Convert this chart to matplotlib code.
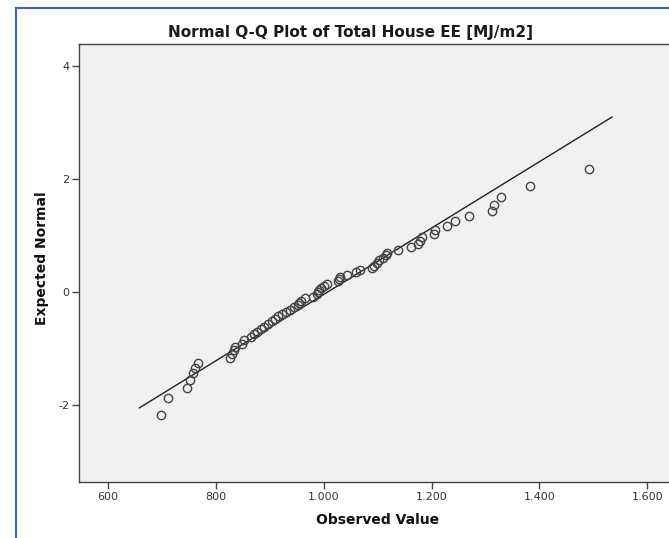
import matplotlib
matplotlib.use('Agg')
import matplotlib.pyplot as plt
from matplotlib.lines import Line2D
from matplotlib.ticker import FuncFormatter
import numpy as np

plt.rcParams['axes.unicode_minus'] = False

# ------------------------------------------------------------------------------
# Q-Q data: observed total house EE [MJ/m2] and expected normal scores
observed = [699, 712, 746, 752, 757, 761, 766,
            826, 829, 834, 836, 849, 853, 866, 870, 876, 884, 890, 896,
            904, 910, 916, 923, 930, 937, 944, 952, 955, 958, 965, 981,
            987, 990, 992, 995, 1001, 1006, 1026, 1028, 1031, 1044, 1059,
            1068, 1089, 1094, 1098, 1102, 1110, 1116, 1118, 1137,
            1162, 1174, 1179, 1182, 1205, 1207, 1228, 1244, 1269, 1313,
            1316, 1329, 1383, 1492]
expected = [-2.17, -1.88, -1.70, -1.56, -1.44, -1.34, -1.25,
            -1.17, -1.10, -1.03, -0.97, -0.91, -0.85, -0.80, -0.75, -0.70,
            -0.65, -0.61, -0.56, -0.52, -0.47, -0.43, -0.39, -0.35, -0.31,
            -0.27, -0.23, -0.19, -0.15, -0.11, -0.08, -0.04, 0.00, 0.04,
            0.08, 0.11, 0.15, 0.19, 0.23, 0.27, 0.31, 0.35, 0.39, 0.43,
            0.47, 0.52, 0.56, 0.60, 0.65, 0.70, 0.75, 0.80, 0.85, 0.91,
            0.97, 1.03, 1.10, 1.17, 1.25, 1.34, 1.43, 1.55, 1.69, 1.88,
            2.17]
# fitted normal line
mean_ee = 1007
sd_ee = 170.4
line_x = [658, 1535]

xticks = [600, 800, 1000, 1200, 1400, 1600]
yticks = [-2, 0, 2, 4]

# ------------------------------------------------------------------------------
W, H = 669, 538
fig = plt.figure(figsize=(W / 100, H / 100), dpi=100)
fig.patch.set_facecolor('white')

ax = fig.add_axes([79 / W, 56 / H, 649 / W, 438 / H])
ax.set_facecolor('#f0f0f0')

lx = np.array(line_x, dtype=float)
ax.plot(lx, (lx - mean_ee) / sd_ee, color='#222222', linewidth=1.0)
ax.plot(observed, expected, linestyle='none', marker='o', markersize=6,
        markerfacecolor='none', markeredgecolor='#444444', markeredgewidth=1.0)

ax.set_xlim(546, 1750)
ax.set_ylim(-3.36, 4.39)
ax.set_xticks(xticks)
ax.set_yticks(yticks)
ax.xaxis.set_major_formatter(FuncFormatter(lambda v, p: f'{int(v):,}'.replace(',', '.')))
ax.tick_params(direction='out', length=5, width=1, color='#444444',
               labelsize=8, labelcolor='#333333', pad=2)
for s in ax.spines.values():
    s.set_color('#444444')
    s.set_linewidth(1.0)

fig.text(378 / W, 1 - 520 / H, 'Observed Value', ha='center', va='center',
         fontsize=10, fontweight='bold', color='#111111')
fig.text(42 / W, 1 - 258 / H, 'Expected Normal', ha='center', va='center',
         rotation=90, fontsize=10, fontweight='bold', color='#111111')
fig.text(351 / W, 1 - 33 / H, 'Normal Q-Q Plot of Total House EE [MJ/m2]',
         ha='center', va='center', fontsize=11, fontweight='bold', color='#1a1a1a')

# blue frame of the output viewer
fig.add_artist(Line2D([15.5 / W, 1.0], [1 - 8 / H, 1 - 8 / H], color='#3563d6', linewidth=1.5))
fig.add_artist(Line2D([15.5 / W, 15.5 / W], [0.0, 1 - 8 / H], color='#3563d6', linewidth=1.5))

plt.savefig('out.png', dpi=100)
